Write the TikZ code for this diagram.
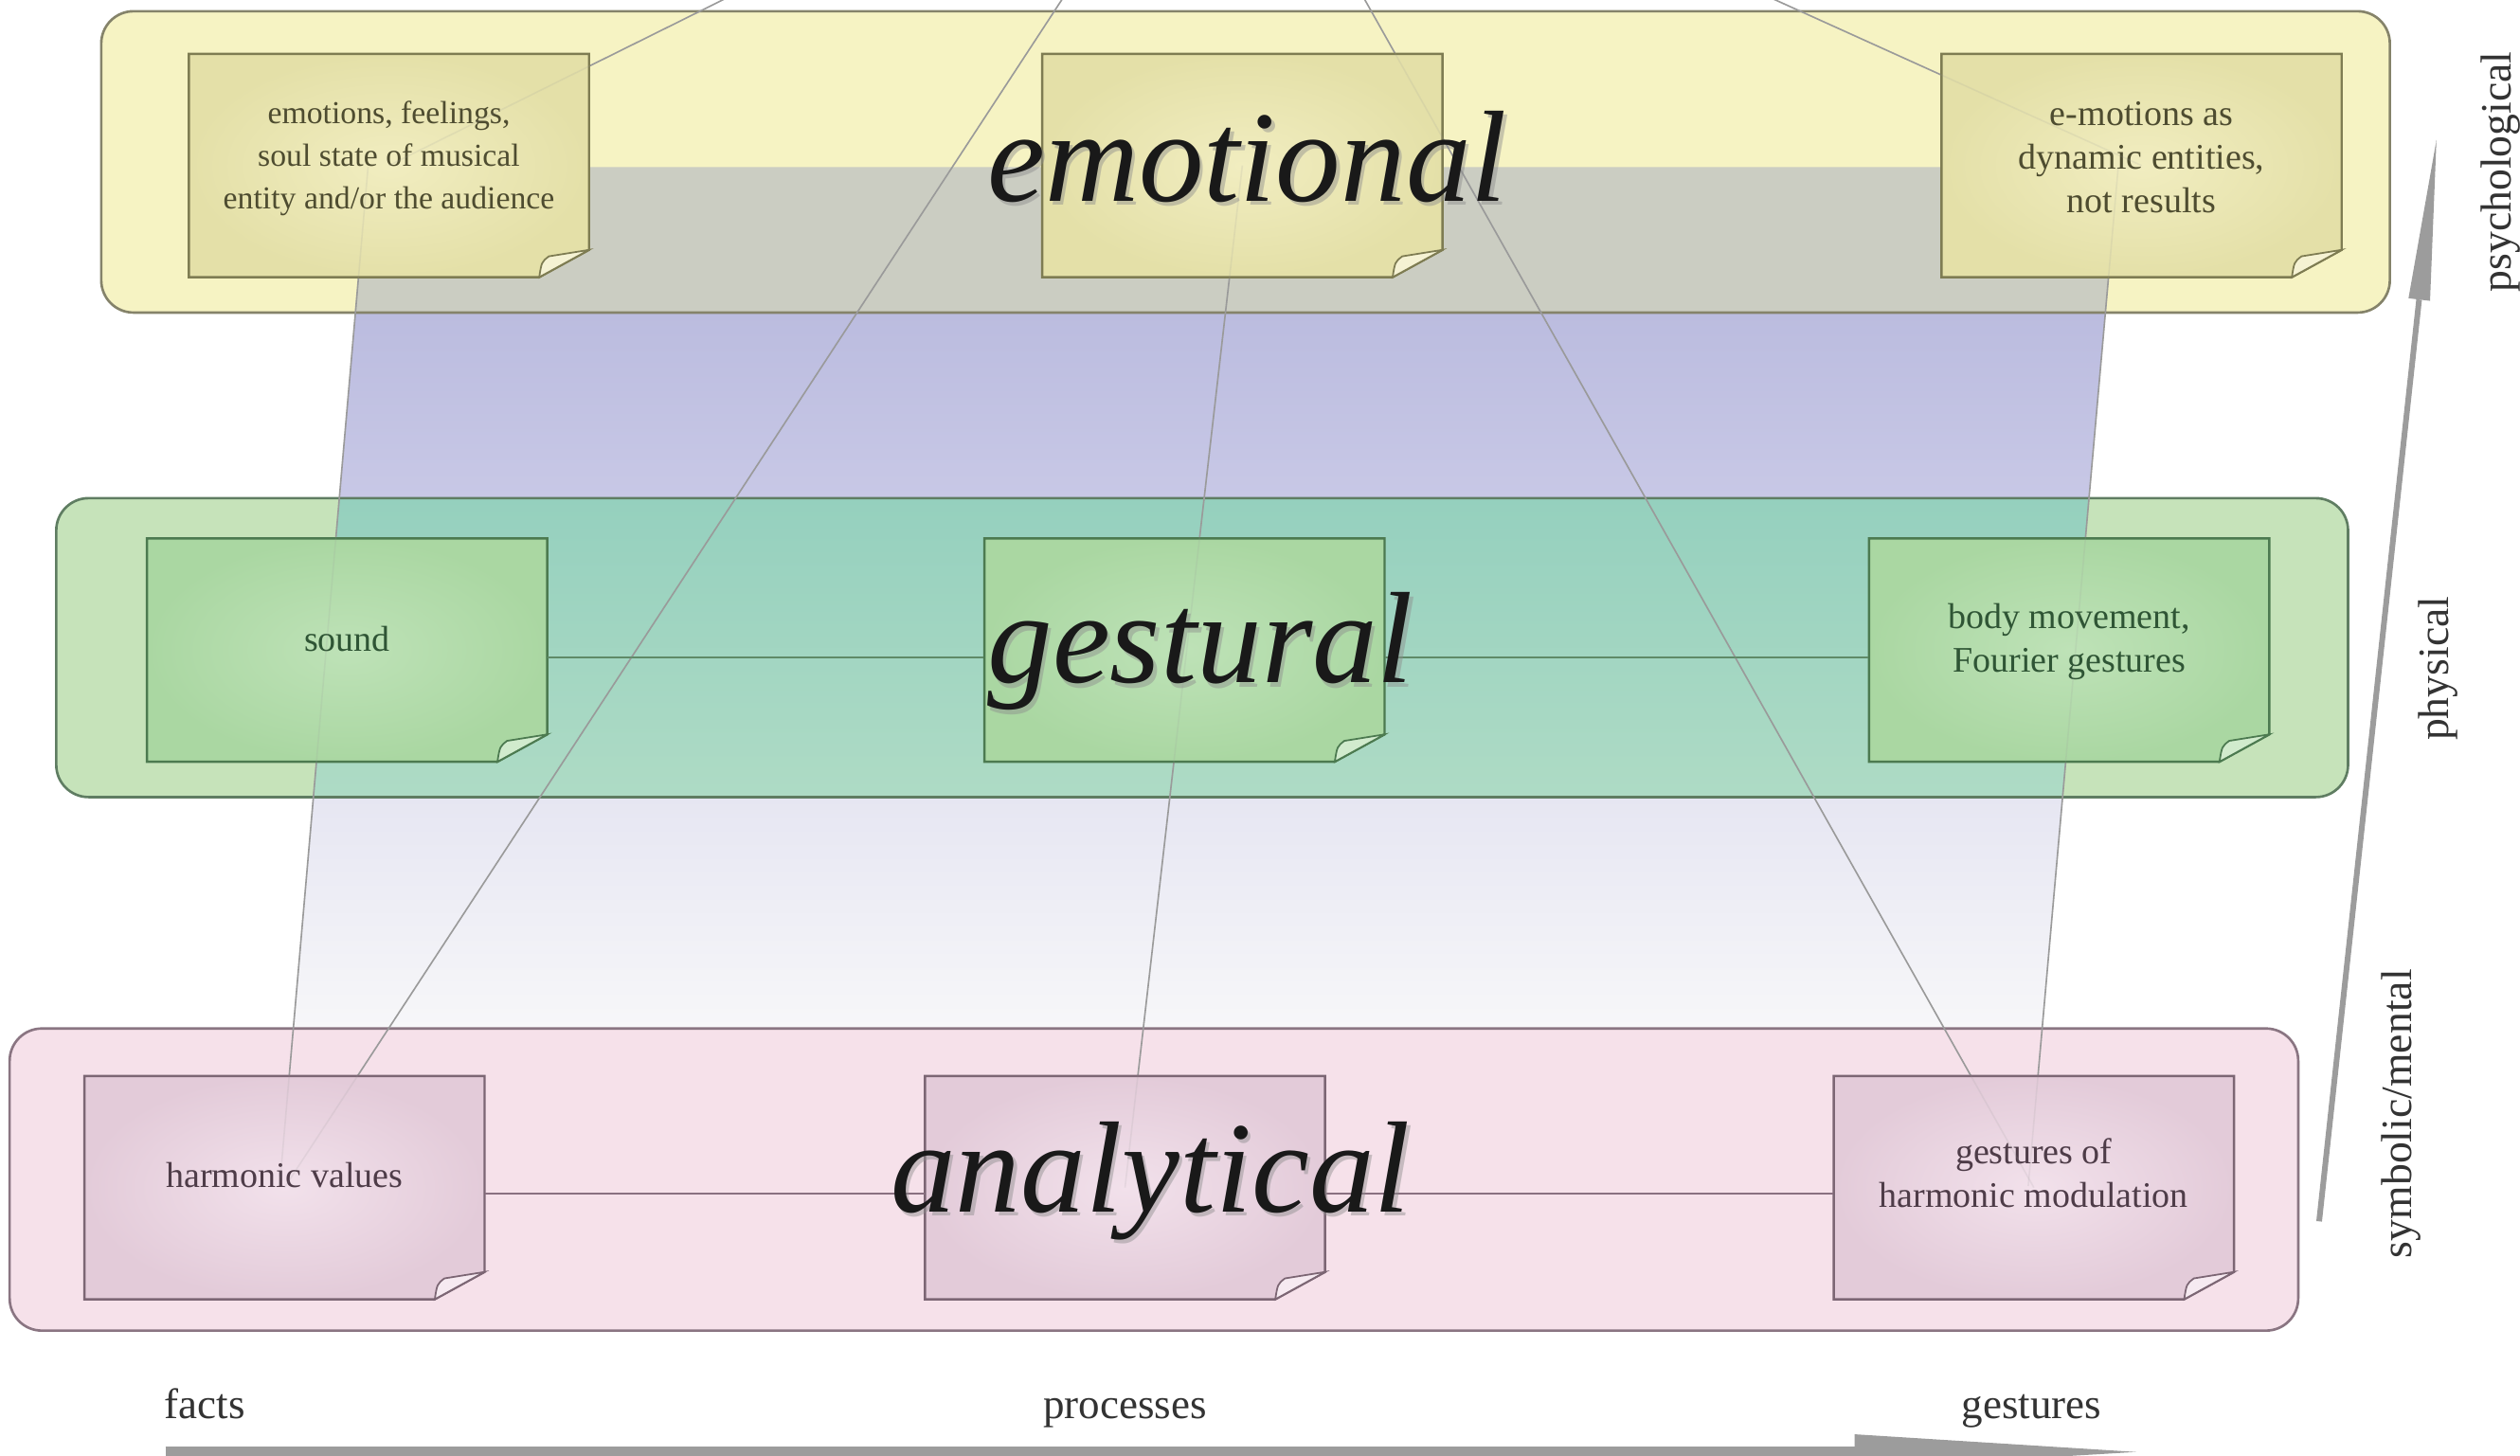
\documentclass[tikz,border=0pt]{standalone}
\usepackage{fontspec}
\setmainfont{Liberation Serif}
\usetikzlibrary{calc}
\definecolor{yband}{HTML}{F6F3C3}
\definecolor{ybord}{HTML}{85836A}
\definecolor{gband}{HTML}{C6E3BA}
\definecolor{gbord}{HTML}{5F7D62}
\definecolor{pband}{HTML}{F6E1EA}
\definecolor{pbord}{HTML}{8A7582}
\definecolor{yI}{HTML}{F1EDC0}
\definecolor{yO}{HTML}{E4E0A8}
\definecolor{yB}{HTML}{7E7C52}
\definecolor{yT}{HTML}{4E4C30}
\definecolor{gI}{HTML}{BEE2B7}
\definecolor{gO}{HTML}{AAD7A2}
\definecolor{gB}{HTML}{4C7A50}
\definecolor{gT}{HTML}{2F5535}
\definecolor{pI}{HTML}{F2E1EB}
\definecolor{pO}{HTML}{E3CBD9}
\definecolor{pB}{HTML}{7C6674}
\definecolor{pT}{HTML}{4E3C48}
\definecolor{qgray}{HTML}{CBCDC2}
\definecolor{qpurA}{HTML}{BBBCDF}
\definecolor{qpurB}{HTML}{C8C8E6}
\definecolor{qtealA}{HTML}{95D0BE}
\definecolor{qtealB}{HTML}{AEDBC5}
\definecolor{qlavA}{HTML}{E6E6F2}
\definecolor{qlavB}{HTML}{F7F7F9}
\definecolor{lgray}{HTML}{9A9A9A}
\definecolor{axgray}{HTML}{9C9C9C}
\definecolor{labtxt}{HTML}{333333}
\definecolor{gconn}{HTML}{5F8A68}
\definecolor{pconn}{HTML}{8A7080}
\tikzset{
  band/.style={line width=0.75pt, rounded corners=0.34cm},
  thinline/.style={draw=lgray, line width=0.45pt},
  notebox/.style={draw=none, minimum width=4.223cm, minimum height=2.357cm, inner sep=0pt},
  notetext/.style={align=center, inner sep=0pt},
  bigword/.style={font=\fontsize{39pt}{40pt}\selectfont\itshape, text=black!90, anchor=base, inner sep=0pt},
  bigshadow/.style={font=\fontsize{39pt}{40pt}\selectfont\itshape, text=black!45, opacity=0.45, anchor=base, inner sep=0pt},
  axlabel/.style={font=\fontsize{12.8pt}{14pt}\selectfont, text=labtxt, anchor=base, inner sep=0pt},
  sidelabel/.style={font=\fontsize{13pt}{14pt}\selectfont, text=labtxt, rotate=90, inner sep=0pt}
}
\newcommand{\drawnote}[7]{%
  \coordinate (#1c) at (#2,#3);
  \fill[inner color=#4I, outer color=#4O] ($(#1c)+(-124.5,-69.5)$) -- ($(#1c)+(124.5,-69.5)$) -- ($(#1c)+(124.5,52.5)$) -- ($(#1c)+(93.5,69.5)$) -- ($(#1c)+(-124.5,69.5)$) -- cycle;
  \draw[#4B, line width=0.7pt] ($(#1c)+(-124.5,-69.5)$) -- ($(#1c)+(124.5,-69.5)$) -- ($(#1c)+(124.5,52.5)$) -- ($(#1c)+(93.5,69.5)$) -- ($(#1c)+(-124.5,69.5)$) -- cycle;
  \filldraw[fill=#4I!70!white, draw=#4B, line width=0.5pt] ($(#1c)+(93.5,69.5)$) .. controls ($(#1c)+(95,60)$) .. ($(#1c)+(99.5,56.5)$) -- ($(#1c)+(124.5,52.5)$) -- cycle;
  \node[notebox] (#1) at (#1c) {};
  \node[notetext, text=#4T, font=#5] (#1t) at ($(#1c)+(0,#6)$) {#7};
}
\begin{document}
\begin{tikzpicture}[x=0.01696cm,y=-0.01696cm]
\useasboundingbox (0,0) rectangle (1568,906);
\clip (0,0) rectangle (1568,906);
\fill[white] (0,0) rectangle (1568,906);

% bands (fill)
\fill[yband, band] (63,7) rectangle (1487,194.5);
\fill[gband, band] (35,310) rectangle (1461,496);
\fill[pband, band] (6,640) rectangle (1430,828);

% shaded projection quad
\coordinate (qTL) at (229,104);
\coordinate (qTR) at (1318,104);
\coordinate (qBR) at (1262,738);
\coordinate (qBL) at (174,738);
\begin{scope}
  \clip (qTL) -- (qTR) -- (qBR) -- (qBL) -- cycle;
  \fill[qgray] (0,104) rectangle (1568,194.5);
  \shade[top color=qpurA, bottom color=qpurB] (0,194.5) rectangle (1568,310);
  \shade[top color=qtealA, bottom color=qtealB] (0,310) rectangle (1568,496);
  \shade[top color=qlavA, bottom color=qlavB] (0,496) rectangle (1568,640);
\end{scope}

% band borders
\draw[ybord, band] (63,7) rectangle (1487,194.5);
\draw[gbord, band] (35,310) rectangle (1461,496);
\draw[pbord, band] (6,640) rectangle (1430,828);

% box centres
\coordinate (apex) at (762,-155);
\coordinate (e1p) at (242,103);
\coordinate (e2p) at (773,103);
\coordinate (e3p) at (1332.5,103);
\coordinate (a1p) at (177,739);
\coordinate (a2p) at (700,739);
\coordinate (a3p) at (1265.5,739);

% connectors below the notes
\draw[thinline] (apex) -- (e1p);
\draw[thinline] (apex) -- (e3p);
\draw[thinline] (apex) -- (a1p);
\draw[thinline] (apex) -- (a3p);
\draw[thinline] (e2p) -- (a2p);
\draw[thinline] (qTL) -- (qBL);
\draw[thinline] (qTR) -- (qBR);

% notes
\drawnote{e1}{242}{103}{y}{\fontsize{9.6pt}{12.8pt}\selectfont}{-4.5}{emotions, feelings,\\soul state of musical\\entity and/or the audience}
\drawnote{e2}{773}{103}{y}{\fontsize{10.8pt}{13pt}\selectfont}{-5}{}
\drawnote{e3}{1332.5}{103}{y}{\fontsize{10.8pt}{13pt}\selectfont}{-5}{e-motions as\\dynamic entities,\\not results}
\drawnote{g1}{216}{404.5}{g}{\fontsize{10.8pt}{13pt}\selectfont}{-7}{sound}
\drawnote{g2}{737}{404.5}{g}{\fontsize{10.8pt}{13pt}\selectfont}{-5}{}
\drawnote{g3}{1287.5}{404.5}{g}{\fontsize{10.8pt}{13pt}\selectfont}{-5}{body movement,\\Fourier gestures}
\drawnote{a1}{177}{739}{p}{\fontsize{10.8pt}{13pt}\selectfont}{-8}{harmonic values}
\drawnote{a2}{700}{739}{p}{\fontsize{10.8pt}{13pt}\selectfont}{-8}{}
\drawnote{a3}{1265.5}{739}{p}{\fontsize{10.8pt}{13pt}\selectfont}{-9}{gestures of\\harmonic modulation}

% horizontal connectors
\draw[gconn, line width=0.55pt] ($(g1.east)+(0,4.5)$) -- ($(g2.west)+(0,4.5)$);
\draw[gconn, line width=0.55pt] ($(g2.east)+(0,4.5)$) -- ($(g3.west)+(0,4.5)$);
\draw[pconn, line width=0.55pt] ($(a1.east)+(0,4)$) -- ($(a2.west)+(0,4)$);
\draw[pconn, line width=0.55pt] ($(a2.east)+(0,4)$) -- ($(a3.west)+(0,4)$);

% faint traces of lines over the notes
\begin{scope}[opacity=0.15]
\draw[thinline] (apex) -- (e1p);
\draw[thinline] (apex) -- (e3p);
\draw[thinline] (apex) -- (a1p);
\draw[thinline] (apex) -- (a3p);
\draw[thinline] (e2p) -- (a2p);
\draw[thinline] (qTL) -- (qBL);
\draw[thinline] (qTR) -- (qBR);
\end{scope}

% big level words
\node[bigshadow] (wEs) at (778,127.5) {emotional};
\node[bigword] (wE) at (776,125) {emotional};
\node[bigshadow] (wGs) at (749,427.5) {gestural};
\node[bigword] (wG) at (747,425) {gestural};
\node[bigshadow] (wAs) at (718,756.5) {analytical};
\node[bigword] (wA) at (716,754) {analytical};

% bottom axis
\node[axlabel] (facts) at (127.5,883) {facts};
\node[axlabel] (proc) at (700,883) {processes};
\node[axlabel] (gest) at (1264,883) {gestures};
\coordinate (hB) at (103,903);
\coordinate (hE) at (1160,903);
\coordinate (hT) at (1329,903.5);
\draw[axgray, line width=2.9pt] (hB) -- (hE);
\fill[axgray] (1154,892.5) -- (hT) -- (1154,914) -- cycle;

% vertical axis
\coordinate (vB) at (1443,760);
\coordinate (vM) at (1505.2,186.4);
\coordinate (vT) at (1516,87);
\draw[axgray, line width=1.7pt] (vB) -- (vM);
\fill[axgray] (1512,187.2) -- (vT) -- (1498.6,185.6) -- cycle;

\node[sidelabel] (psy) at (1556,107) {psychological};
\node[sidelabel] (phy) at (1517,416) {physical};
\node[sidelabel] (sym) at (1494,693) {symbolic/mental};
\end{tikzpicture}
\end{document}
